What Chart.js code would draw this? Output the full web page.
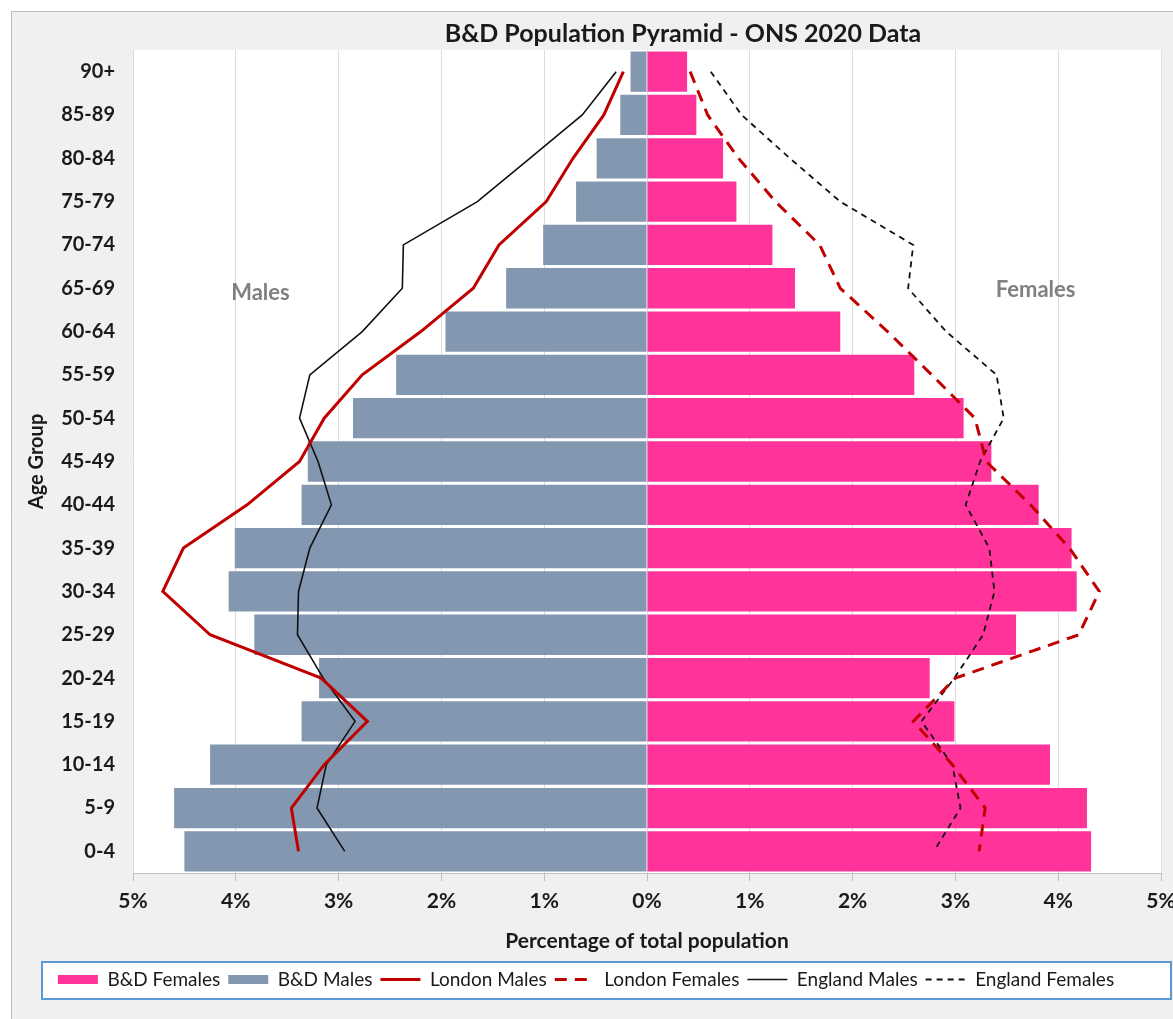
<!DOCTYPE html>
<html>
<head>
<meta charset="utf-8">
<title>B&amp;D Population Pyramid</title>
<script src="https://cdn.jsdelivr.net/npm/chart.js@4/dist/chart.umd.min.js"></script>
<style>
  html, body { margin: 0; padding: 0; background: #fff; }
</style>
</head>
<body>
<canvas id="pyramid" width="1173" height="1019"></canvas>
<script>
// age bands, top of the pyramid first
const ageGroups = ['90+', '85-89', '80-84', '75-79', '70-74', '65-69', '60-64', '55-59', '50-54',
  '45-49', '40-44', '35-39', '30-34', '25-29', '20-24', '15-19', '10-14', '5-9', '0-4'];

// % of total population
const bdFemales = [0.39, 0.48, 0.74, 0.87, 1.22, 1.44, 1.88, 2.60, 3.08, 3.35, 3.81, 4.13, 4.18, 3.59, 2.75, 2.99, 3.92, 4.28, 4.32];
const bdMales = [0.16, 0.26, 0.49, 0.69, 1.01, 1.37, 1.96, 2.44, 2.86, 3.30, 3.36, 4.01, 4.07, 3.82, 3.19, 3.36, 4.25, 4.60, 4.50];
const londonMales = [0.23, 0.42, 0.72, 0.98, 1.44, 1.69, 2.20, 2.77, 3.14, 3.38, 3.89, 4.51, 4.71, 4.25, 3.17, 2.72, 3.14, 3.46, 3.39];
const londonFemales = [0.42, 0.59, 0.89, 1.25, 1.68, 1.88, 2.34, 2.77, 3.19, 3.30, 3.73, 4.11, 4.40, 4.20, 3.00, 2.59, 2.97, 3.29, 3.23];
const englandMales = [0.30, 0.63, 1.14, 1.65, 2.37, 2.38, 2.77, 3.28, 3.38, 3.20, 3.07, 3.28, 3.39, 3.40, 3.15, 2.84, 3.12, 3.21, 2.94];
const englandFemales = [0.62, 0.92, 1.39, 1.88, 2.59, 2.54, 2.91, 3.40, 3.47, 3.24, 3.10, 3.33, 3.38, 3.27, 2.99, 2.67, 2.97, 3.05, 2.79];

const xMin = -5;
const xMax = 5;

const neg = arr => arr.map(v => -v);
const FONT = 'Lato, "Noto Sans", sans-serif';

const backdrop = {
  id: 'backdrop',
  beforeDraw(chart) {
    const ctx = chart.ctx;
    const a = chart.chartArea;
    ctx.save();
    ctx.fillStyle = '#ffffff';
    ctx.fillRect(0, 0, chart.width, chart.height);
    ctx.fillStyle = '#f0f0f0';
    ctx.fillRect(11, 11, chart.width - 11, chart.height - 11);
    ctx.strokeStyle = '#bdbdbd';
    ctx.lineWidth = 1;
    ctx.beginPath();
    ctx.moveTo(11.5, chart.height);
    ctx.lineTo(11.5, 11.5);
    ctx.lineTo(chart.width, 11.5);
    ctx.stroke();
    ctx.fillStyle = '#ffffff';
    ctx.fillRect(a.left, a.top, a.right - a.left, a.bottom - a.top);
    // legend frame
    const lg = chart.legend;
    ctx.fillStyle = '#ffffff';
    ctx.fillRect(42, lg.top, 1129, lg.bottom - lg.top);
    ctx.strokeStyle = '#5b9bd5';
    ctx.lineWidth = 2;
    ctx.strokeRect(42, lg.top, 1129, lg.bottom - lg.top);
    ctx.restore();
  },
  afterDraw(chart) {
    const ctx = chart.ctx;
    const xs = chart.scales.x;
    const ys = chart.scales.y;
    ctx.save();
    ctx.textAlign = 'center';
    ctx.textBaseline = 'middle';
    ctx.fillStyle = '#1a1a1a';
    ctx.font = 'bold 25px ' + FONT;
    ctx.fillText('B&D Population Pyramid - ONS 2020 Data', 683, 34);
    ctx.fillStyle = '#808080';
    ctx.font = 'bold 22px ' + FONT;
    ctx.fillText('Males', xs.getPixelForValue(-3.76), ys.getPixelForValue(5) + 5);
    ctx.fillText('Females', xs.getPixelForValue(3.78), ys.getPixelForValue(5) + 2);
    ctx.restore();
  }
};

const lineSet = (label, data, color, width, dash) => ({
  type: 'line',
  label: label,
  data: data,
  indexAxis: 'y',
  borderColor: color,
  backgroundColor: color,
  borderWidth: width,
  borderDash: dash,
  pointRadius: 0,
  fill: false,
  tension: 0,
  order: 0
});

new Chart(document.getElementById('pyramid').getContext('2d'), {
  type: 'bar',
  data: {
    labels: ageGroups,
    datasets: [
      { label: 'B&D Females', data: bdFemales, backgroundColor: '#ff3399', grouped: false,
        barPercentage: 1, categoryPercentage: 0.93, order: 1 },
      { label: 'B&D Males', data: neg(bdMales), backgroundColor: '#8497b0', grouped: false,
        barPercentage: 1, categoryPercentage: 0.93, order: 1 },
      lineSet('London Males', neg(londonMales), '#c00000', 3, []),
      lineSet('London Females', londonFemales, '#c00000', 3, [12, 8]),
      lineSet('England Males', neg(englandMales), '#111111', 1.6, []),
      lineSet('England Females', englandFemales, '#111111', 1.8, [6, 5])
    ]
  },
  options: {
    indexAxis: 'y',
    responsive: false,
    animation: false,
    layout: { padding: { left: 11, right: 12, top: 50, bottom: 20 } },
    scales: {
      x: {
        type: 'linear',
        min: xMin,
        max: xMax,
        ticks: {
          stepSize: 1,
          callback: v => Math.abs(v) + '%',
          color: '#1a1a1a',
          font: { family: FONT, size: 21, weight: 'bold' },
          padding: 8
        },
        grid: { color: '#dcdcdc', tickColor: '#bfbfbf', tickLength: 8 },
        border: { color: '#bfbfbf' },
        title: {
          display: true,
          text: 'Percentage of total population',
          color: '#1a1a1a',
          font: { family: FONT, size: 21, weight: 'bold' },
          padding: { top: 8, bottom: 8 }
        },
        afterFit(s) { s.height = 89; s.paddingLeft = 0; s.paddingRight = 0; }
      },
      y: {
        type: 'category',
        offset: true,
        grid: { display: false },
        border: { display: false },
        ticks: {
          color: '#1a1a1a',
          font: { family: FONT, size: 20, weight: 'bold' },
          padding: 10
        },
        title: {
          display: true,
          text: 'Age Group',
          color: '#1a1a1a',
          font: { family: FONT, size: 20, weight: 'bold' },
          padding: { top: 14, bottom: 14 }
        },
        afterFit(s) { s.width = 122; }
      }
    },
    plugins: {
      title: { display: false },
      tooltip: { enabled: false },
      legend: {
        position: 'bottom',
        labels: {
          usePointStyle: true,
          pointStyleWidth: 40,
          boxHeight: 9,
          padding: 8,
          color: '#1a1a1a',
          font: { family: FONT, size: 19 },
          sort: (a, b) => a.datasetIndex - b.datasetIndex,
          generateLabels(chart) {
            const items = Chart.defaults.plugins.legend.labels.generateLabels(chart);
            items.forEach(item => {
              const ds = chart.data.datasets[item.datasetIndex];
              if (ds.type === 'line') {
                item.pointStyle = 'line';
                item.lineDash = ds.borderDash;
                item.lineWidth = ds.borderWidth;
                item.strokeStyle = ds.borderColor;
              } else {
                item.pointStyle = 'rect';
                item.lineWidth = 0;
                item.fillStyle = ds.backgroundColor;
                item.strokeStyle = ds.backgroundColor;
              }
            });
            return items;
          }
        }
      }
    }
  },
  plugins: [backdrop]
});
</script>
</body>
</html>
